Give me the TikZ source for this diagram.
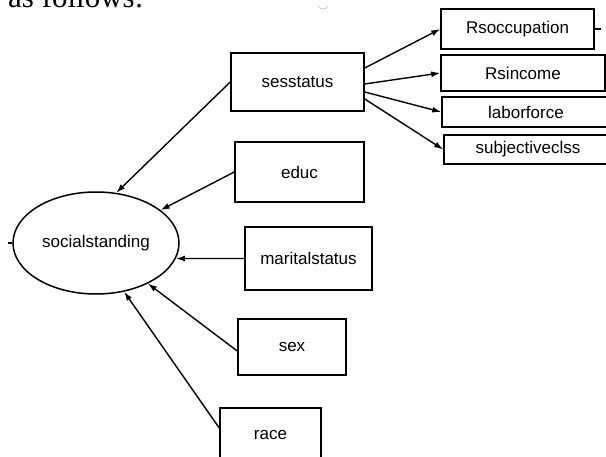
\documentclass[tikz,border=0pt]{standalone}
\usepackage{fontspec}
\setmainfont{Liberation Sans}
\newfontfamily\serifface{Liberation Serif}
\usetikzlibrary{arrows.meta,shapes.geometric}
\tikzset{
  box/.style={draw, rectangle, line width=1.5pt, inner sep=0pt, font=\fontsize{17}{20}\selectfont},
  lat/.style={draw, ellipse, line width=1.5pt, inner sep=0pt, minimum width=166pt, minimum height=102pt, font=\fontsize{17}{20}\selectfont},
  conn/.style={line width=1.4pt, -{Latex[length=9pt,width=6pt]}},
  stub/.style={line width=1.4pt}
}
\begin{document}
\begin{tikzpicture}[x=1pt,y=-1pt]
\useasboundingbox (0,0) rectangle (606,457);
\clip (0,0) rectangle (606,457);
\node[anchor=base west, font=\serifface\fontsize{31}{36}\selectfont, inner sep=0pt] (title) at (8,8) {as follows:};
\draw[gray!45, line width=0.8pt] (318,6) .. controls (320,10) and (326,10) .. (328,6);
\node[lat] (ell) at (96,243) {socialstanding};
\node[box, minimum width=133pt, minimum height=58pt] (ses) at (297.5,82) {sesstatus};
\node[box, minimum width=129pt, minimum height=60pt] (educ) at (299.5,172) {educ};
\node[box, minimum width=127pt, minimum height=63pt] (mar) at (308.5,258.5) {maritalstatus};
\node[box, minimum width=108pt, minimum height=56pt] (sex) at (292,347) {sex};
\node[box, minimum width=101pt, minimum height=54pt] (race) at (270.5,435) {race};
\node[box, minimum width=153pt, minimum height=40pt] (occ) at (517.5,29) {Rsoccupation};
\node[box, minimum width=164pt, minimum height=36pt] (inc) at (523,73) {Rsincome};
\node[box, minimum width=168pt, minimum height=30pt] (lab) at (526,112) {laborforce};
\node[box, minimum width=168pt, minimum height=29pt] (subj) at (528,149.5) {subjectiveclss};
\coordinate (occerr) at (601,29);
\coordinate (ellerr) at (8,243);
\draw[stub] (occ.east) -- (occerr);
\draw[stub] (ellerr) -- (ell.west);
\draw[conn] (ses.west) -- (ell.68);
\draw[conn] (educ.west) -- (ell.27);
\draw[conn] (mar.west) -- (ell.-11);
\draw[conn] ([yshift=-4pt]sex.west) -- (ell.-38);
\draw[conn] ([yshift=7pt]race.west) -- (ell.-60);
\draw[conn] ([yshift=14pt]ses.east) -- (occ.west);
\draw[conn] ([yshift=-2pt]ses.east) -- (inc.west);
\draw[conn] ([yshift=-10pt]ses.east) -- (lab.west);
\draw[conn] ([yshift=-17pt]ses.east) -- (subj.west);
\end{tikzpicture}
\end{document}
